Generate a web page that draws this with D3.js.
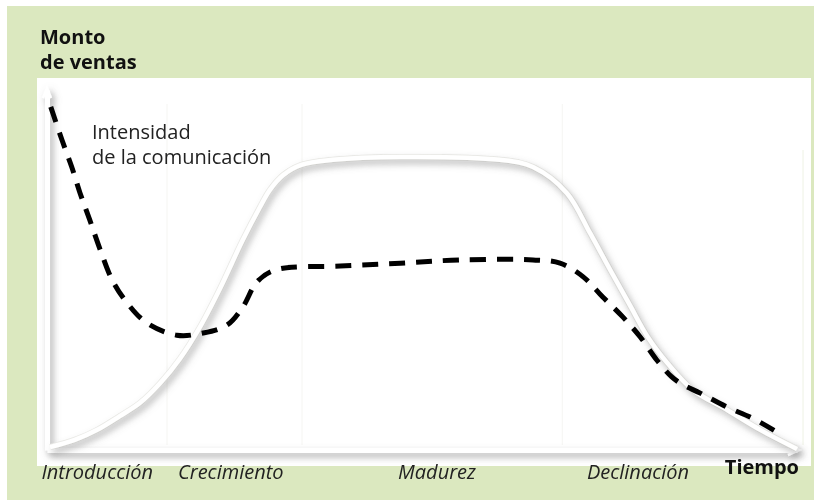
<!DOCTYPE html>
<html>
<head>
<meta charset="utf-8">
<script src="https://cdn.jsdelivr.net/npm/d3@7"></script>
<style>
  html, body { margin: 0; padding: 0; background: #ffffff; }
  svg { display: block; }
  text { font-family: "Open Sans", "Noto Sans", sans-serif; }
</style>
</head>
<body>
<svg id="chart" width="814" height="500"></svg>
<script>
// ---- data (time 0..100, value 0..100) ----
const salesTime  = [0.4, 3.7, 6.7, 9.7, 12.4, 15.1, 17.7, 20.4, 23.1, 26.1, 28.4, 29.7, 31.5, 33.9, 38.1, 47.1, 60.4, 64.8, 69.3, 72.4, 75.1, 77.7, 80.1, 82.7, 86.1, 90.7, 95.1, 100];
const salesValue = [0.8, 2.8, 5.6, 9.4, 13.1, 18.6, 25.3, 34.2, 45, 58.3, 67.5, 72.2, 76.4, 79.2, 80.6, 81.4, 80.6, 78.6, 71.4, 60.3, 50, 40.3, 31.4, 24.2, 16.7, 11.1, 5.6, 0.3];

const commTime  = [0.5, 2, 3.3, 4.4, 5.7, 7.1, 8.7, 10.7, 13.3, 17.3, 20.8, 24, 26.1, 28, 30.4, 39.1, 47.1, 55.1, 64.8, 68.4, 71.5, 74.1, 76.8, 79.1, 81.3, 83.3, 84.8, 87.1, 90.7, 94, 97.3];
const commValue = [95.3, 86.1, 78.6, 71.4, 63.9, 55.6, 47.2, 40.8, 35.3, 31.9, 32.5, 34.7, 39.7, 46.7, 50, 51.1, 51.9, 52.8, 52.8, 51.9, 48.1, 42.5, 36.9, 31.4, 25, 20.3, 18.1, 15.8, 11.9, 8.9, 5];

const phaseLabels = ["Introducción", "Crecimiento", "Madurez", "Declinación"];
const phaseCenters = [6.7, 24.5, 52, 78.8];
const phaseBounds = [16, 34, 68.7];

const yTitle = ["Monto", "de ventas"];
const xTitle = "Tiempo";
const commLabel = ["Intensidad", "de la comunicación"];

// ---- drawing ----
const svg = d3.select("#chart");
const W = 814, H = 500;

const defs = svg.append("defs");
const f = defs.append("filter").attr("id", "shadow")
  .attr("x", "-10%").attr("y", "-10%").attr("width", "130%").attr("height", "130%");
f.append("feDropShadow").attr("dx", 3).attr("dy", 4).attr("stdDeviation", 3.5)
  .attr("flood-color", "#707070").attr("flood-opacity", 0.6);

// background
svg.append("rect").attr("x", 7).attr("y", 6).attr("width", W - 7).attr("height", H - 6).attr("fill", "#dbe8bf");
svg.append("rect").attr("x", 37).attr("y", 78).attr("width", 774).attr("height", 388).attr("fill", "#ffffff");

const x = d3.scaleLinear().domain([0, 100]).range([47, 797]);
const y = d3.scaleLinear().domain([0, 100]).range([450, 90]);

// faint phase separators
svg.append("g").selectAll("line").data(phaseBounds).join("line")
  .attr("x1", d => x(d)).attr("x2", d => x(d))
  .attr("y1", 104).attr("y2", 445)
  .attr("stroke", "#f5f5f2").attr("stroke-width", 1);
svg.append("line").attr("x1", 803).attr("x2", 803).attr("y1", 150).attr("y2", 445)
  .attr("stroke", "#eef2e4").attr("stroke-width", 1);

// axes (white with shadow)
const axG = svg.append("g").attr("filter", "url(#shadow)");
const xAxis = d3.axisBottom(x).tickValues([]).tickSizeOuter(0);
const yAxis = d3.axisLeft(y).tickValues([]).tickSizeOuter(0);
axG.append("g").attr("transform", `translate(0,${y(0)})`).call(xAxis)
  .select(".domain").attr("stroke", "#ffffff").attr("stroke-width", 5);
axG.append("g").attr("transform", `translate(${x(0)},0)`).call(yAxis)
  .select(".domain").attr("stroke", "#ffffff").attr("stroke-width", 5);
// arrowheads
axG.append("path")
  .attr("d", `M${x(100) - 9},${y(0) - 5} L${x(100) + 2},${y(0)} L${x(100) - 9},${y(0) + 5}`)
  .attr("fill", "none").attr("stroke", "#ffffff").attr("stroke-width", 2.5);
axG.append("path")
  .attr("d", `M${x(0) - 4},${y(100) + 8} L${x(0)},${y(100) - 2} L${x(0) + 4},${y(100) + 8}`)
  .attr("fill", "none").attr("stroke", "#ffffff").attr("stroke-width", 2.5);

// sales curve
const salesData = salesTime.map((t, i) => [t, salesValue[i]]);
const commData = commTime.map((t, i) => [t, commValue[i]]);
const line = d3.line().x(d => x(d[0])).y(d => y(d[1])).curve(d3.curveCatmullRom.alpha(0.5));

svg.append("path").datum(salesData).attr("d", line)
  .attr("fill", "none").attr("stroke", "#ecece8").attr("stroke-width", 6);
svg.append("path").datum(salesData).attr("d", line)
  .attr("fill", "none").attr("stroke", "#ffffff").attr("stroke-width", 4.5)
  .attr("filter", "url(#shadow)");

// communication intensity dashed
svg.append("path").datum(commData).attr("d", line)
  .attr("fill", "none").attr("stroke", "#000000").attr("stroke-width", 5)
  .attr("stroke-dasharray", "16,11");

// texts
svg.append("g").selectAll("text").data(yTitle).join("text")
  .attr("x", 40).attr("y", (d, i) => 44 + i * 25)
  .attr("font-size", 20).attr("font-weight", "bold").attr("fill", "#111")
  .text(d => d);

svg.append("g").selectAll("text").data(commLabel).join("text")
  .attr("x", 92).attr("y", (d, i) => 139 + i * 25)
  .attr("font-size", 20).attr("fill", "#222")
  .text(d => d);

svg.append("g").selectAll("text").data(phaseLabels).join("text")
  .attr("x", (d, i) => x(phaseCenters[i])).attr("y", 479)
  .attr("text-anchor", "middle")
  .attr("font-size", 20).attr("font-style", "italic").attr("fill", "#222")
  .text(d => d);

svg.append("text").attr("x", 799).attr("y", 474).attr("text-anchor", "end")
  .attr("font-size", 20).attr("font-weight", "bold").attr("fill", "#111")
  .text(xTitle);
</script>
</body>
</html>
